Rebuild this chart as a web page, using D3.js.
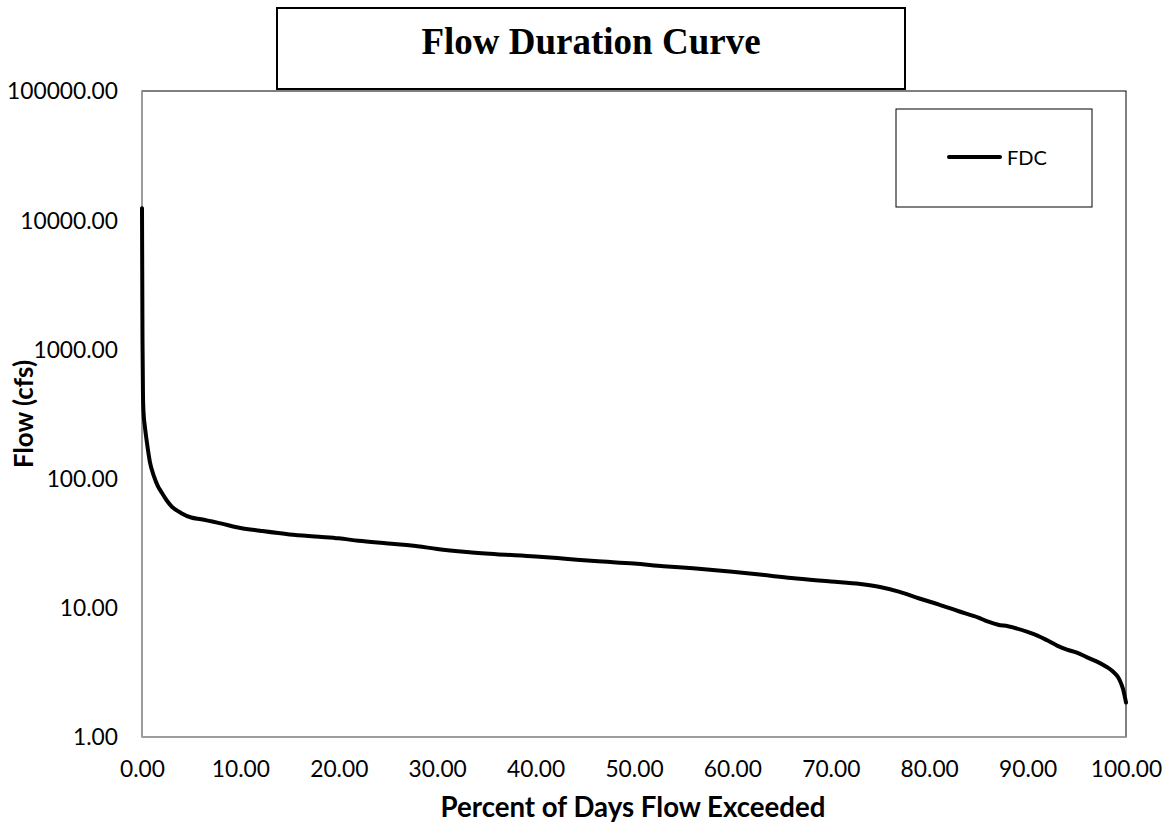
<!DOCTYPE html>
<html>
<head>
<meta charset="utf-8">
<script src="https://cdn.jsdelivr.net/npm/d3@7"></script>
<style>
  html, body { margin: 0; padding: 0; background: #fff; }
  svg { display: block; }
</style>
</head>
<body>
<svg id="chart" width="1167" height="822"></svg>
<script>
// ---- Data ----
const percentExceeded = [0, 0.05, 0.1, 0.15, 0.3, 0.5, 0.8, 1.2, 1.6, 2, 2.5, 3, 4, 5, 6, 8, 10, 12, 15, 18, 20, 22, 25, 28, 30, 33, 36, 40, 43, 46, 50, 53, 56, 60, 63, 66, 70, 73, 75, 77, 79, 81, 83, 85, 86, 87, 88, 90, 91, 92, 93, 94, 95, 96, 97, 98, 98.7, 99.2, 99.5, 99.7, 99.85, 100];
const flowCfs = [12400, 1200, 450, 330, 250, 190, 135, 105, 88, 78, 68, 61, 54, 50, 48.5, 45, 41.5, 39.5, 37, 35.5, 34.5, 33, 31.5, 30, 28.5, 27, 26, 25, 24, 23, 22, 21, 20.2, 19, 18, 17, 16, 15.3, 14.5, 13.3, 11.8, 10.6, 9.4, 8.4, 7.8, 7.4, 7.2, 6.5, 6.1, 5.6, 5.1, 4.75, 4.5, 4.15, 3.85, 3.5, 3.2, 2.9, 2.6, 2.35, 2.1, 1.85];
const xTicks = [0, 10, 20, 30, 40, 50, 60, 70, 80, 90, 100];
const yTicks = [1, 10, 100, 1000, 10000, 100000];
const seriesName = "FDC";
const titleText = "Flow Duration Curve";
const xTitle = "Percent of Days Flow Exceeded";
const yTitle = "Flow (cfs)";

// ---- Layout ----
const plot = { left: 142, right: 1126, top: 91, bottom: 737 };
const svg = d3.select("#chart");
const sans = "Lato, 'Open Sans', sans-serif";

const x = d3.scaleLinear().domain([0, 100]).range([plot.left, plot.right]);
const y = d3.scaleLog().domain([1, 100000]).range([plot.bottom, plot.top]);

function fitSize(sel, target, base) {
  sel.attr("font-size", base);
  const len = sel.node().getComputedTextLength();
  const s = base * target / len;
  sel.attr("font-size", s);
  return s;
}

// plot area border (top/right black)
svg.append("rect")
  .attr("x", plot.left).attr("y", plot.top)
  .attr("width", plot.right - plot.left).attr("height", plot.bottom - plot.top)
  .attr("fill", "#fff").attr("stroke", "#000").attr("stroke-width", 1);

// gray axis lines (left & bottom)
svg.append("line").attr("x1", plot.left).attr("x2", plot.left)
  .attr("y1", plot.top).attr("y2", plot.bottom)
  .attr("stroke", "#a6a6a6").attr("stroke-width", 1.5);
svg.append("line").attr("x1", plot.left).attr("x2", plot.right)
  .attr("y1", plot.bottom).attr("y2", plot.bottom)
  .attr("stroke", "#a6a6a6").attr("stroke-width", 1.5);

// measure tick font size
const probe = svg.append("text").attr("font-family", sans).text("100000.00");
const tickSize = fitSize(probe, 111, 22);
probe.remove();

// Y axis
const yAxis = d3.axisLeft(y).tickValues(yTicks).tickSize(0).tickPadding(24)
  .tickFormat(d => d.toFixed(2));
const gy = svg.append("g").attr("transform", `translate(${plot.left},0)`).call(yAxis);
gy.select(".domain").remove();
gy.selectAll("text").attr("font-family", sans).attr("font-size", tickSize)
  .attr("fill", "#000").attr("dy", "0.35em");

// X axis
const xAxis = d3.axisBottom(x).tickValues(xTicks).tickSize(0).tickPadding(0)
  .tickFormat(d => d.toFixed(2));
const gx = svg.append("g").attr("transform", `translate(0,${plot.bottom})`).call(xAxis);
gx.select(".domain").remove();
gx.selectAll("text").attr("font-family", sans).attr("font-size", tickSize)
  .attr("fill", "#000").attr("dy", null).attr("y", 40);

// Curve
const pts = percentExceeded.map((p, i) => [p, flowCfs[i]]);
const line = d3.line().x(d => x(d[0])).y(d => y(d[1])).curve(d3.curveMonotoneX);
svg.append("path").datum(pts).attr("d", line)
  .attr("fill", "none").attr("stroke", "#000").attr("stroke-width", 4)
  .attr("stroke-linejoin", "round").attr("stroke-linecap", "round");

// Axis titles
const xt = svg.append("text").attr("x", (plot.left + plot.right) / 2 - 1).attr("y", 817)
  .attr("text-anchor", "middle").attr("font-family", sans).attr("font-weight", "bold")
  .attr("fill", "#000").text(xTitle);
fitSize(xt, 385, 28);

const yt = svg.append("text").attr("transform", `translate(33,${(plot.top + plot.bottom) / 2}) rotate(-90)`)
  .attr("text-anchor", "middle").attr("font-family", sans).attr("font-weight", "bold")
  .attr("fill", "#000").text(yTitle);
fitSize(yt, 108, 28);

// Title box
svg.append("rect").attr("x", 277).attr("y", 8).attr("width", 628).attr("height", 81)
  .attr("fill", "#fff").attr("stroke", "#000").attr("stroke-width", 2);
svg.append("text").attr("x", 591).attr("y", 54).attr("text-anchor", "middle")
  .attr("font-family", "'Liberation Serif', 'Times New Roman', serif")
  .attr("font-weight", "bold").attr("font-size", 37).attr("fill", "#000").text(titleText);

// Legend
svg.append("rect").attr("x", 896).attr("y", 109).attr("width", 196).attr("height", 98)
  .attr("fill", "#fff").attr("stroke", "#000").attr("stroke-width", 1);
svg.append("line").attr("x1", 949).attr("x2", 1000).attr("y1", 157).attr("y2", 157)
  .attr("stroke", "#000").attr("stroke-width", 4).attr("stroke-linecap", "round");
const lt = svg.append("text").attr("x", 1007).attr("y", 165)
  .attr("font-family", sans).attr("fill", "#000").text(seriesName);
fitSize(lt, 40, 22);
</script>
</body>
</html>
